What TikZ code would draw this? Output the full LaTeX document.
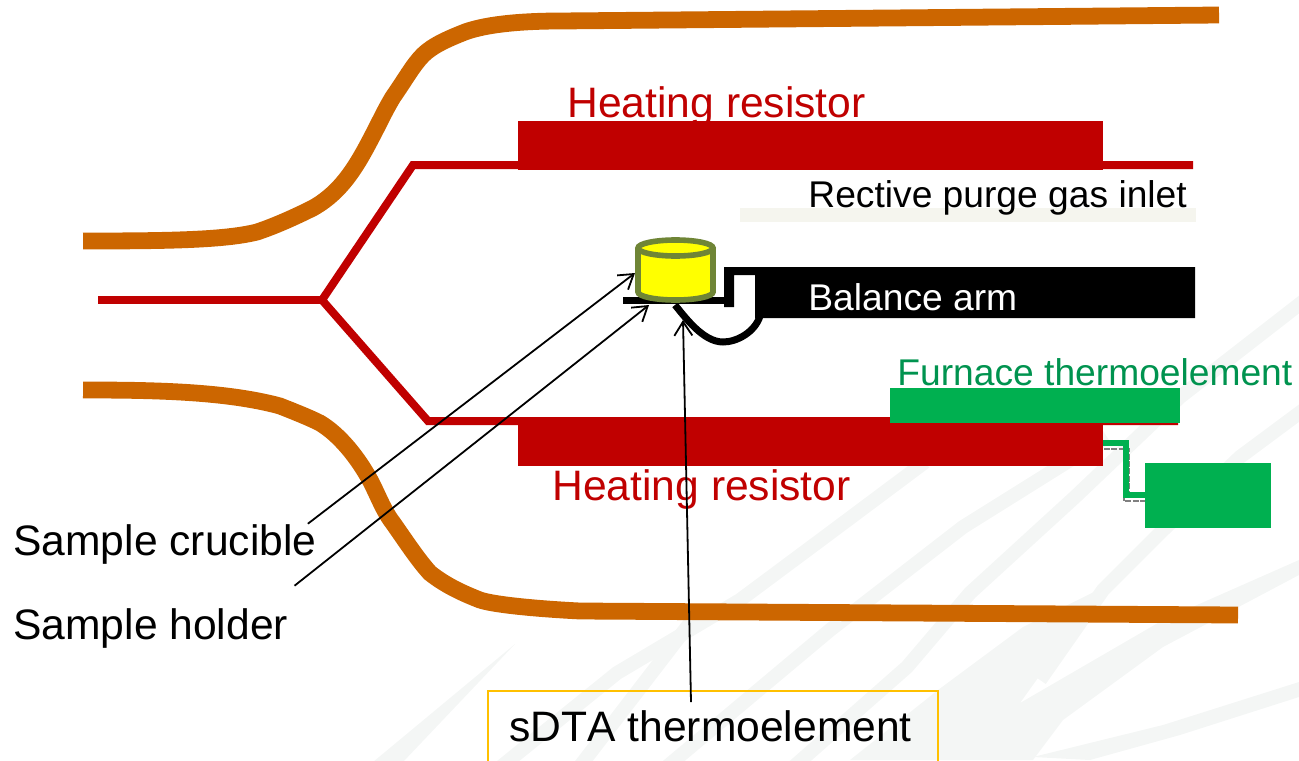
\documentclass[tikz,border=0pt]{standalone}
\usepackage{fontspec}
\setmainfont{Liberation Sans}[Kerning=Off]
\usetikzlibrary{arrows.meta}
\definecolor{tubecolor}{HTML}{CC6600}
\definecolor{heatred}{HTML}{C00000}
\definecolor{barGreen}{HTML}{00B050}
\definecolor{textGreen}{HTML}{00934F}
\definecolor{swooshgrey}{HTML}{F4F6F5}
\definecolor{inletgrey}{HTML}{F5F5EE}
\definecolor{cruciblerim}{HTML}{6F8536}
\definecolor{cruciblefill}{HTML}{FFFF00}
\definecolor{boxgold}{HTML}{FFC000}
\begin{document}
\begin{tikzpicture}[
    x=0.5pt, y=-0.5pt,
    >={Straight Barb[length=7pt,width=9pt]},
    swoosh/.style={draw=swooshgrey, line width=7pt, line join=round},
    swooshfill/.style={fill=swooshgrey},
    tube/.style={draw=tubecolor, line width=8.4pt},
    redline/.style={draw=heatred, line width=4pt},
    pointer/.style={->, line width=0.9pt},
    biglabel/.style={anchor=base west, inner sep=0pt, font=\fontsize{21.3}{25}\selectfont},
    smalllabel/.style={anchor=base west, inner sep=0pt, font=\fontsize{18.6}{22}\selectfont}
  ]
  \clip (0,0) rectangle (1299,760);

  % background strokes
  \fill[swooshfill] (373,762) -- (515,644) -- (403,762) -- cycle;
  \draw[swoosh] (497,770) -- (617,673) -- (740,600) -- (830,533) -- (925,462);
  \draw[swoosh] (577,770) -- (690,623);
  \draw[swoosh] (663,770) -- (830,630) -- (963,527) -- (1107,437);
  \draw[swoosh] (790,770) -- (907,667) -- (970,593) -- (1075,497) -- (1180,397) -- (1310,296);
  \draw[swoosh] (1040,680) -- (1103,590) -- (1163,530) -- (1240,457) -- (1310,405);
  \fill[swooshfill] (1020,703) -- (1063,643) -- (1107,592) -- (1098,590) -- (1023,627) -- (938,690) -- (850,760) -- (1033,760) -- (1063,720) -- (1163,647) -- (1299,575) -- (1299,560) -- (1163,620) -- cycle;
  \fill[swooshfill] (1033,757) -- (1163,725) -- (1299,682) -- (1299,697) -- (1180,735) -- (1090,760) -- cycle;

  % furnace tube
  \draw[tube] (83,241) .. controls (170,241) and (225,240) .. (257,232)
    .. controls (275,226) and (295,217) .. (313,208)
    .. controls (345,190) and (360,160) .. (377,127)
    .. controls (383,115) and (387,107) .. (393,97)
    .. controls (405,80) and (413,65) .. (423,55)
    .. controls (433,45) and (450,38) .. (465,32)
    .. controls (490,23) and (530,21) .. (560,21) -- (1219,15);
  \draw[tube] (83,390) .. controls (150,390) and (225,391) .. (280,406)
    .. controls (295,412) and (308,417) .. (320,423)
    .. controls (340,435) and (358,458) .. (370,480)
    .. controls (378,495) and (383,510) .. (393,523)
    .. controls (405,540) and (418,560) .. (430,573)
    .. controls (445,585) and (462,593) .. (480,600)
    .. controls (495,605) and (540,609) .. (580,611) -- (1238,615);

  \fill[inletgrey] (740,208) rectangle (1196,222);

  % heating resistor
  \coordinate (fork) at (322,300);
  \draw[redline] (98,300) -- (fork);
  \draw[redline] (fork) -- (413,165) -- (1193,165);
  \draw[redline] (fork) -- (428,421) -- (1178,421);
  \fill[heatred] (518,121) rectangle (1103,170);
  \fill[heatred] (518,417) rectangle (1103,466);
  \node[biglabel, text=heatred] (topheat) at (567,117) {Heating resistor};
  \node[biglabel, text=heatred] (bottomheat) at (552,500) {Heating resistor};

  % furnace thermoelement
  \draw[gray, line width=1.2pt, dash pattern=on 3pt off 0.7pt] (1104,449) -- (1129,449) -- (1129,495) (1124,495) -- (1124,501) -- (1147,501);
  \draw[barGreen, line width=2.8pt] (1103,443) -- (1126,443) -- (1126,495) -- (1146,495);
  \fill[barGreen] (890,388) rectangle (1180,423);
  \fill[barGreen] (1145,463) rectangle (1271,528);
  \node[smalllabel, text=textGreen] (furnacelabel) at (897,385) {Furnace thermoelement};
  \node[smalllabel] (inletlabel) at (808,207) {Rective purge gas inlet};

  % balance arm and holder
  \fill[black] (724,307) -- (724,267) -- (1195,267) -- (1195,318) -- (755,318) -- (755,275) -- (734,275) -- (734,307) -- cycle;
  \fill[black] (623,297) rectangle (733,304);
  \draw[black, line width=3.5pt] (675,305) .. controls (685,317) and (703,342) .. (723,342) .. controls (737,342) and (755,332) .. (760,316);
  \node[smalllabel, text=white] (armlabel) at (808,310) {Balance arm};

  % crucible
  \draw[cruciblerim, fill=cruciblefill, line width=2.8pt] (638,248) -- (638,292) .. controls (638,296.4) and (654.8,300) .. (675.5,300) .. controls (696.2,300) and (713,296.4) .. (713,292) -- (713,248);
  \draw[cruciblerim, fill=cruciblefill, line width=2.8pt] (675.5,248) ellipse [x radius=37.5, y radius=8];

  % labels and pointers
  \node[biglabel] (cruciblelabel) at (13,555) {Sample crucible};
  \node[biglabel] (holderlabel) at (13,639) {Sample holder};
  \node[draw=boxgold, line width=0.8pt, minimum width=225pt, minimum height=40pt, inner sep=0pt] (sdtabox) at (713,731) {};
  \node[biglabel] (sdtalabel) at (509,741) {sDTA thermoelement};
  \coordinate (cruciblewall) at (635,273);
  \coordinate (holderedge) at (649,305);
  \coordinate (wireend) at (683,320);
  \draw[pointer] ([xshift=-4.5pt]cruciblelabel.north east) -- (cruciblewall);
  \draw[pointer] ([xshift=3pt,yshift=11pt]holderlabel.north east) -- (holderedge);
  \draw[pointer] ([xshift=-11pt,yshift=-6pt]sdtabox.north) -- (wireend);
\end{tikzpicture}
\end{document}
